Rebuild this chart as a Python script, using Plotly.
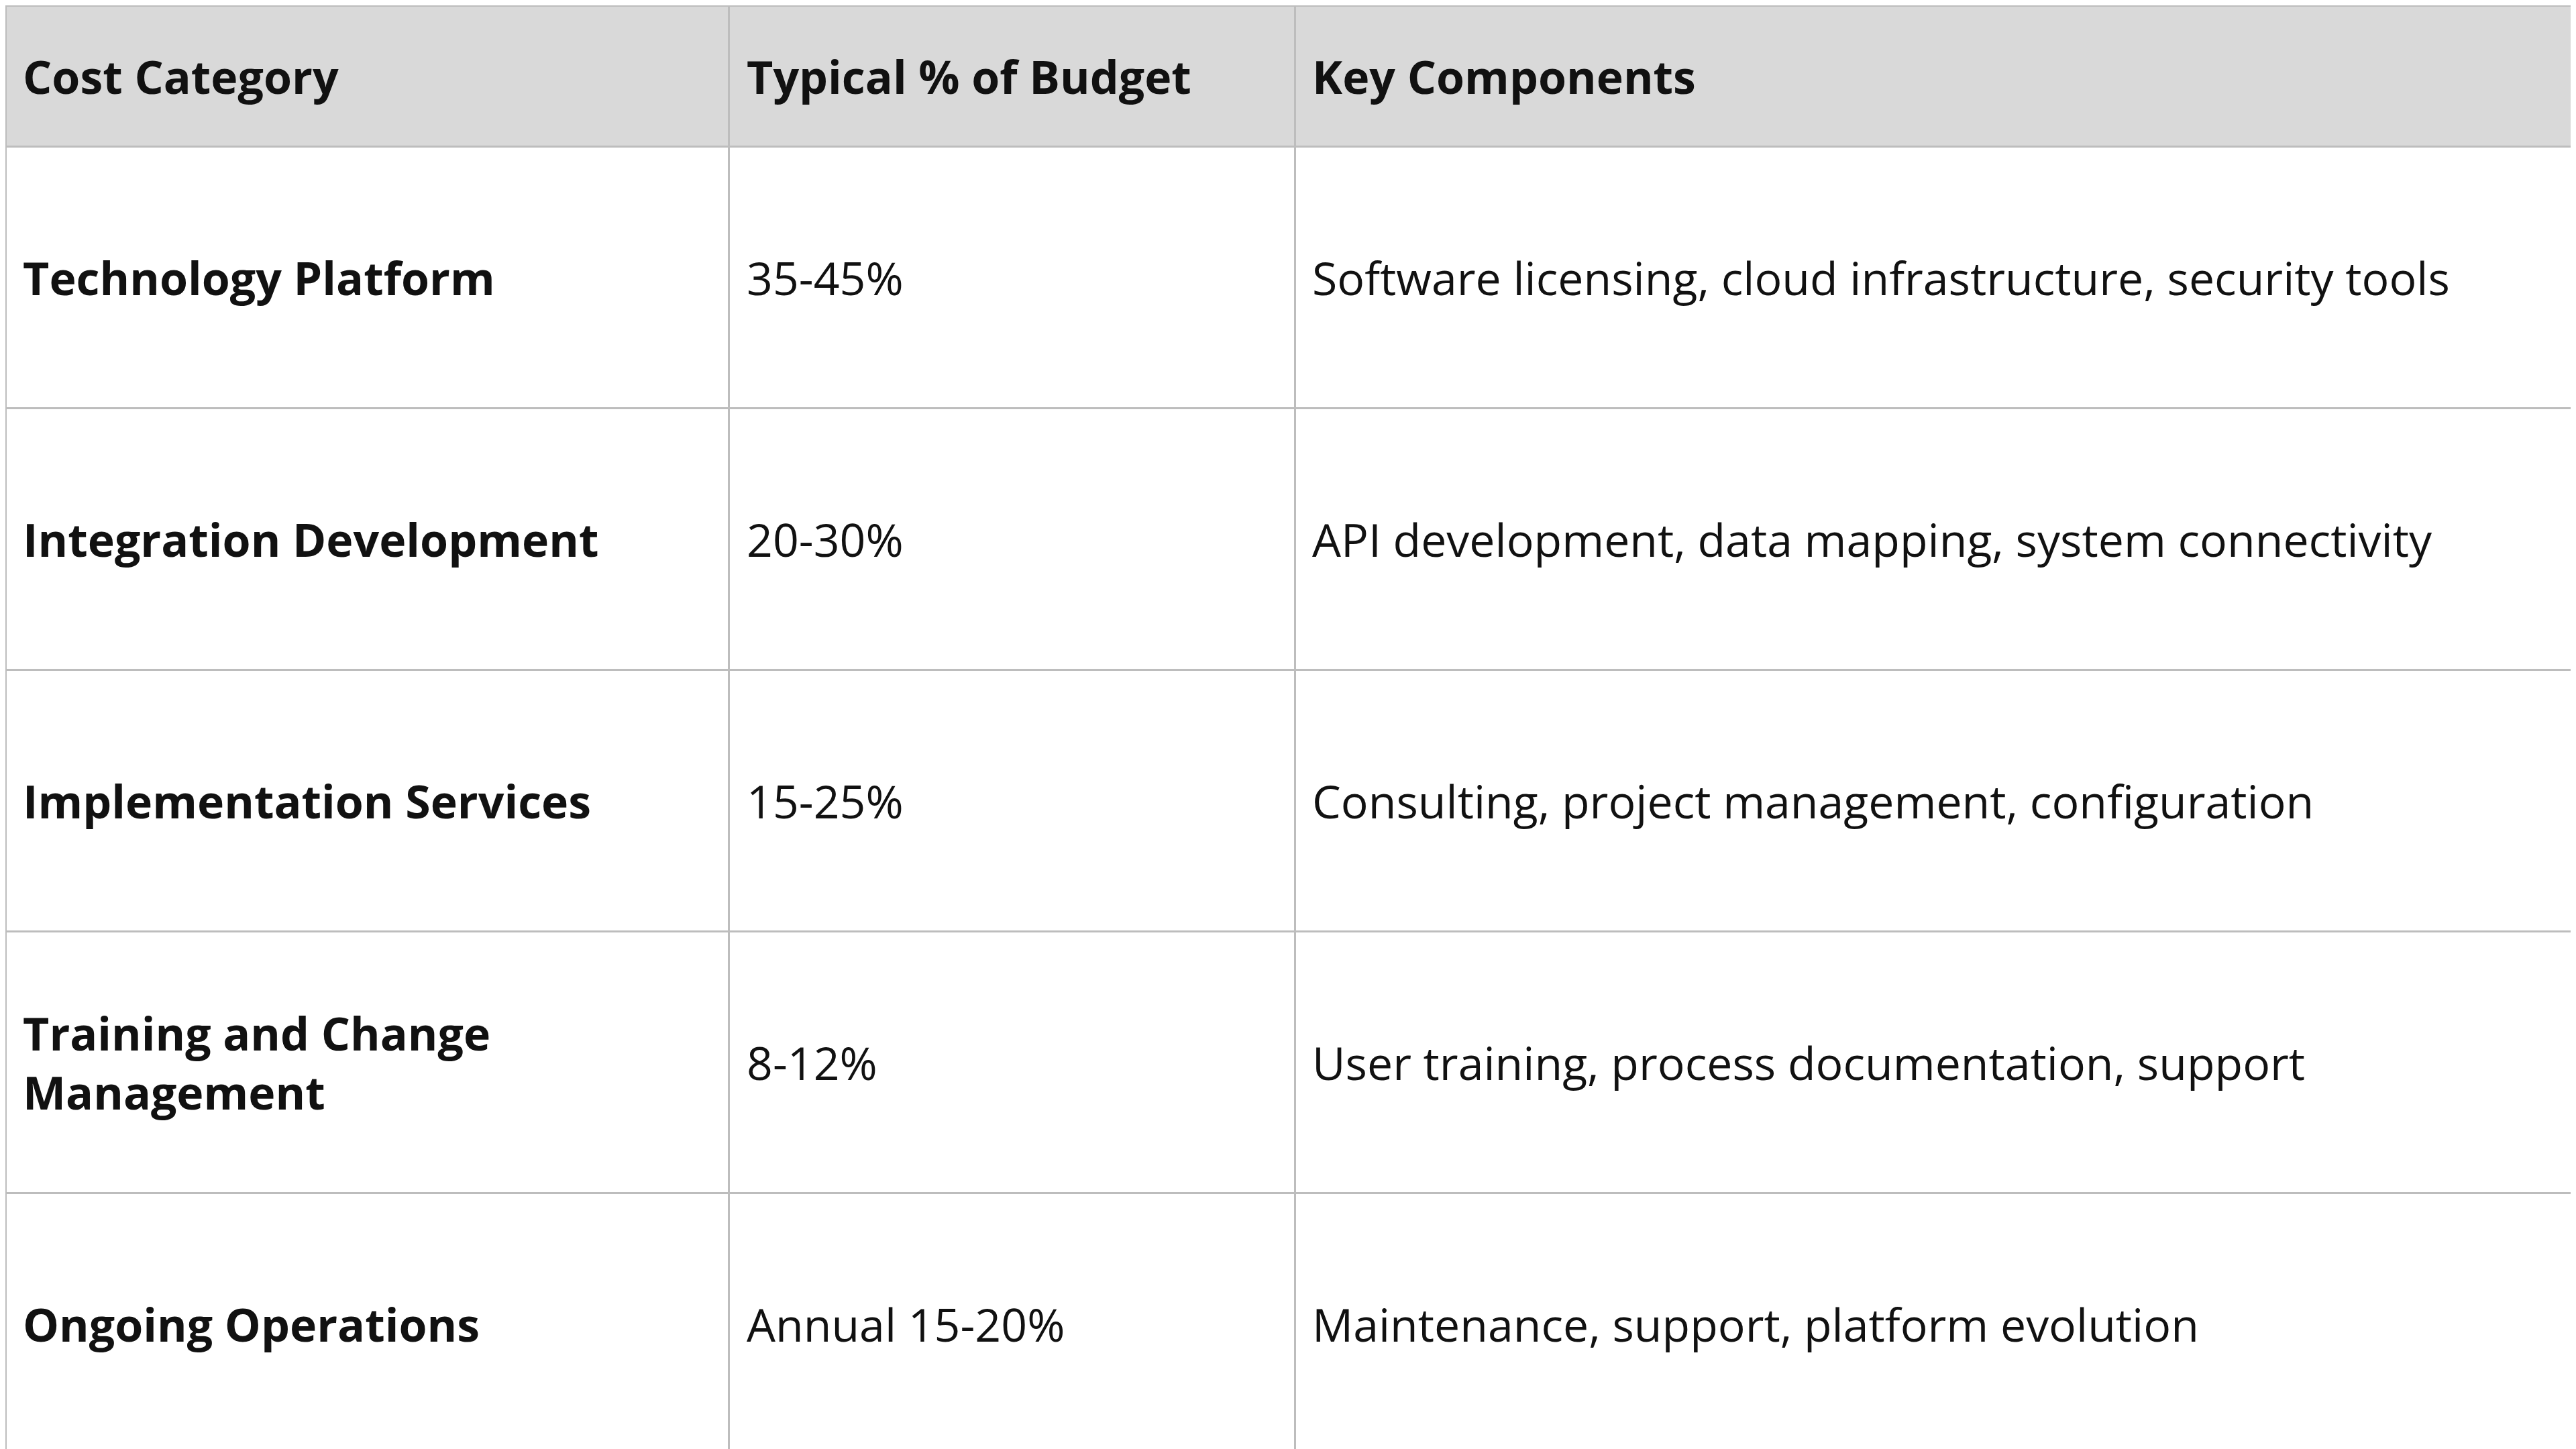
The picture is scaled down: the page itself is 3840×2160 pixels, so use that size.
import plotly.graph_objects as go

headers = ["Cost Category", "Typical % of Budget", "Key Components"]
categories = ["Technology Platform", "Integration Development", "Implementation Services",
              "Training and Change<br>Management", "Ongoing Operations"]
budget = ["35-45%", "20-30%", "15-25%", "8-12%", "Annual 15-20%"]
components = ["Software licensing, cloud infrastructure, security tools",
              "API development, data mapping, system connectivity",
              "Consulting, project management, configuration",
              "User training, process documentation, support",
              "Maintenance, support, platform evolution"]

W, H = 3840, 2160
colw = [440, 344, 782]
head_h, row_h = 210, 390
font = dict(family="Open Sans", size=68, color="#111111")

fig = go.Figure(go.Table(
    columnwidth=colw,
    header=dict(values=["" for _ in headers], fill_color="#d9d9d9",
                line=dict(color="#bdbdbd", width=3), height=head_h),
    cells=dict(values=[["" for _ in categories], ["" for _ in budget], ["" for _ in components]],
               fill_color="white", line=dict(color="#bdbdbd", width=3), height=row_h),
    domain=dict(x=[0, 1], y=[0, 1]),
))

tot = sum(colw)
lefts = [sum(colw[:i]) / tot for i in range(3)]
pad = 24 / W
cols = [["<b>%s</b>" % c for c in categories], budget, components]
for j, h in enumerate(headers):
    fig.add_annotation(x=lefts[j] + pad, y=1 - (head_h / 2) / H, xref="paper", yref="paper",
                       text="<b>%s</b>" % h, showarrow=False, xanchor="left", yanchor="middle",
                       align="left", font=font)
for j, col in enumerate(cols):
    for i, v in enumerate(col):
        fig.add_annotation(x=lefts[j] + pad, y=1 - (head_h + row_h * i + row_h / 2) / H,
                           xref="paper", yref="paper", text=v, showarrow=False,
                           xanchor="left", yanchor="middle", align="left", font=font)

fig.update_layout(width=W, height=H, margin=dict(l=0, r=0, t=0, b=0), paper_bgcolor="white")
fig.write_html("out.html")
